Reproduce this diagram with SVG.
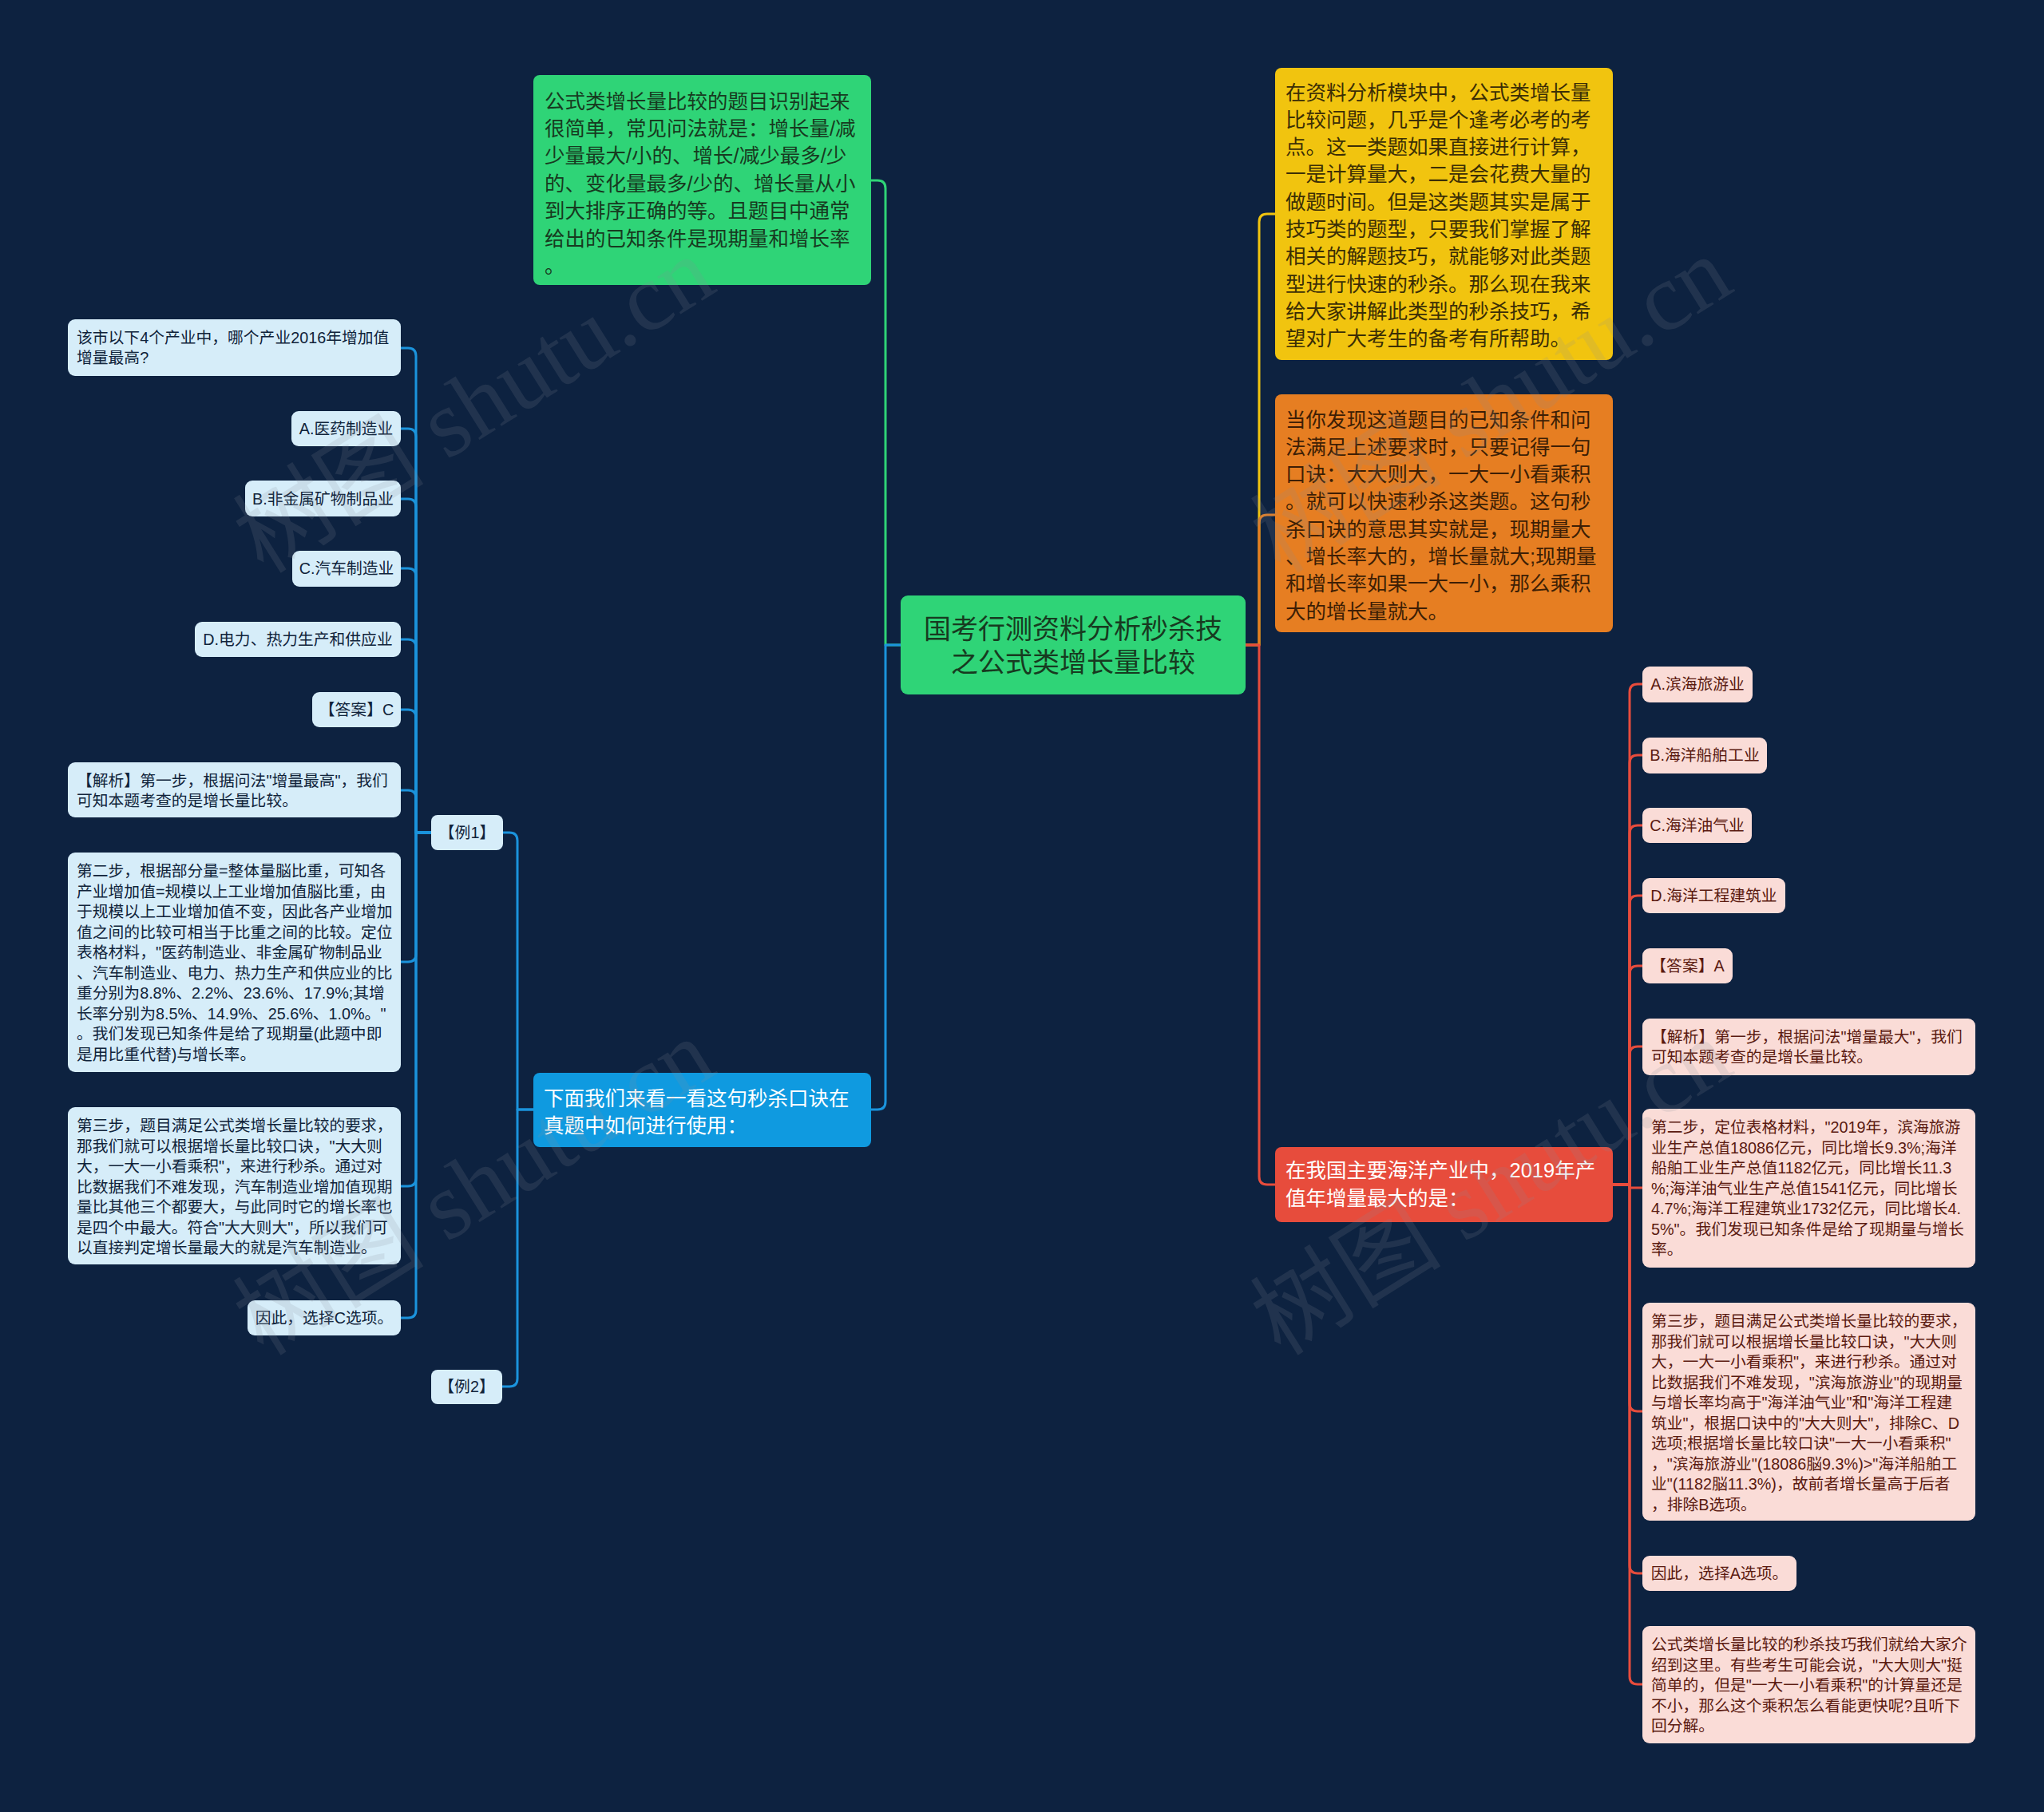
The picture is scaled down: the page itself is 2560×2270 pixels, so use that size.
<svg xmlns="http://www.w3.org/2000/svg" width="2560" height="2270" viewBox="0 0 2560 2270">
<style>
text{font-family:"Liberation Sans","Noto Sans CJK SC",sans-serif}
.lb{fill:#d6edf9}
.pk{fill:#fadcd7}
.s{font-size:19.8px}
.tl{fill:#10233a}
.tp{fill:#5a1a10}
.b{font-size:25.5px}
.c{fill:none;stroke-width:3;stroke-linejoin:round}
.cb{stroke:#1b93dc}
.cg{stroke:#2fd477}
.cy{stroke:#f1c40f}
.co{stroke:#e67e22}
.cr{stroke:#e74c3c}
.wm{font-family:"Liberation Serif","Noto Sans CJK SC",serif;font-size:120px;fill:#8a8f99;opacity:0.16}
</style>
<rect x="0" y="0" width="2560" height="2270" fill="#0d2240"/>

<g id="connectors">
<path class="c cg" d="M1128 808 H1109 V236 Q1109 226 1099 226 H1091"/>
<path class="c cb" d="M1128 808 H1109 V1380 Q1109 1390 1099 1390 H1091"/>
<path class="c cb" d="M668 1390 H648 V1053 Q648 1043 638 1043 H630"/>
<path class="c cb" d="M668 1390 H648 V1727 Q648 1737 638 1737 H629"/>
<path class="c cb" d="M540 1043 H521 V446 Q521 436 511 436 H502"/>
<path class="c cb" d="M540 1043 H521 V547 Q521 537 511 537 H502"/>
<path class="c cb" d="M540 1043 H521 V635 Q521 625 511 625 H502"/>
<path class="c cb" d="M540 1043 H521 V722 Q521 712 511 712 H502"/>
<path class="c cb" d="M540 1043 H521 V811 Q521 801 511 801 H502"/>
<path class="c cb" d="M540 1043 H521 V899 Q521 889 511 889 H502"/>
<path class="c cb" d="M540 1043 H521 V1000 Q521 990 511 990 H502"/>
<path class="c cb" d="M540 1043 H521 V1195 Q521 1205 511 1205 H502"/>
<path class="c cb" d="M540 1043 H521 V1476 Q521 1486 511 1486 H502"/>
<path class="c cb" d="M540 1043 H521 V1641 Q521 1651 511 1651 H502"/>
<path class="c cy" d="M1560 808 H1577 V278 Q1577 268 1587 268 H1597"/>
<path class="c co" d="M1560 808 H1577 V655 Q1577 645 1587 645 H1597"/>
<path class="c cr" d="M1560 808 H1577 V1474 Q1577 1484 1587 1484 H1597"/>
<path class="c cr" d="M2020 1484 H2041 V867 Q2041 857 2051 857 H2057"/>
<path class="c cr" d="M2020 1484 H2041 V956 Q2041 946 2051 946 H2057"/>
<path class="c cr" d="M2020 1484 H2041 V1044 Q2041 1034 2051 1034 H2057"/>
<path class="c cr" d="M2020 1484 H2041 V1132 Q2041 1122 2051 1122 H2057"/>
<path class="c cr" d="M2020 1484 H2041 V1220 Q2041 1210 2051 1210 H2057"/>
<path class="c cr" d="M2020 1484 H2041 V1321 Q2041 1311 2051 1311 H2057"/>
<path class="c cr" d="M2020 1484 H2041 V1488 H2057"/>
<path class="c cr" d="M2020 1484 H2041 V1758 Q2041 1768 2051 1768 H2057"/>
<path class="c cr" d="M2020 1484 H2041 V1961 Q2041 1971 2051 1971 H2057"/>
<path class="c cr" d="M2020 1484 H2041 V2100 Q2041 2110 2051 2110 H2057"/>
</g>

<g id="root">
<rect x="1128" y="746" width="432" height="124" rx="9" fill="#2fd477"/>
<text font-size="34" fill="#173a20" text-anchor="middle"><tspan x="1344" y="800">国考行测资料分析秒杀技</tspan><tspan x="1344" y="842">之公式类增长量比较</tspan></text>
</g>

<g id="n-green">
<rect x="668" y="94" width="423" height="263" rx="8" fill="#2fd477"/>
<text class="b" fill="#173a20"><tspan x="682" y="135.5">公式类增长量比较的题目识别起来</tspan><tspan x="682" y="169.9">很简单，常见问法就是：增长量/减</tspan><tspan x="682" y="204.3">少量最大/小的、增长/减少最多/少</tspan><tspan x="682" y="238.7">的、变化量最多/少的、增长量从小</tspan><tspan x="682" y="273.1">到大排序正确的等。且题目中通常</tspan><tspan x="682" y="307.5">给出的已知条件是现期量和增长率</tspan><tspan x="682" y="341.9">。</tspan></text>
</g>

<g id="n-blue">
<rect x="668" y="1344" width="423" height="93" rx="8" fill="#0f9ae0"/>
<text class="b" fill="#ffffff"><tspan x="681" y="1384.5">下面我们来看一看这句秒杀口诀在</tspan><tspan x="681" y="1419">真题中如何进行使用：</tspan></text>
</g>

<g id="n-ex1">
<rect x="540" y="1021" width="90" height="44" rx="8" class="lb"/>
<text class="s tl" text-anchor="middle" x="585" y="1050">【例1】</text>
</g>
<g id="n-ex2">
<rect x="540" y="1716" width="89" height="43" rx="8" class="lb"/>
<text class="s tl" text-anchor="middle" x="584.5" y="1744">【例2】</text>
</g>

<g id="n-l-q">
<rect x="85" y="400" width="417" height="71" rx="9" class="lb"/>
<text class="s tl"><tspan x="96" y="430">该市以下4个产业中，哪个产业2016年增加值</tspan><tspan x="96" y="455">增量最高?</tspan></text>
</g>
<g id="n-l-a">
<rect x="365" y="515" width="137" height="44" rx="9" class="lb"/>
<text class="s tl" text-anchor="middle" x="433.5" y="544">A.医药制造业</text>
</g>
<g id="n-l-b">
<rect x="307" y="602" width="195" height="45" rx="9" class="lb"/>
<text class="s tl" text-anchor="middle" x="404.5" y="632">B.非金属矿物制品业</text>
</g>
<g id="n-l-c">
<rect x="366" y="690" width="136" height="45" rx="9" class="lb"/>
<text class="s tl" text-anchor="middle" x="434" y="719">C.汽车制造业</text>
</g>
<g id="n-l-d">
<rect x="244" y="779" width="258" height="44" rx="9" class="lb"/>
<text class="s tl" text-anchor="middle" x="373" y="808">D.电力、热力生产和供应业</text>
</g>
<g id="n-l-ans">
<rect x="391" y="867" width="111" height="44" rx="9" class="lb"/>
<text class="s tl" text-anchor="middle" x="446.5" y="896">【答案】C</text>
</g>
<g id="n-l-jx">
<rect x="85" y="955" width="417" height="69" rx="9" class="lb"/>
<text class="s tl"><tspan x="96" y="985">【解析】第一步，根据问法"增量最高"，我们</tspan><tspan x="96" y="1010">可知本题考查的是增长量比较。</tspan></text>
</g>
<g id="n-l-s2">
<rect x="85" y="1068" width="417" height="275" rx="9" class="lb"/>
<text class="s tl"><tspan x="96" y="1098">第二步，根据部分量=整体量脳比重，可知各</tspan><tspan x="96" y="1123.5">产业增加值=规模以上工业增加值脳比重，由</tspan><tspan x="96" y="1149">于规模以上工业增加值不变，因此各产业增加</tspan><tspan x="96" y="1174.5">值之间的比较可相当于比重之间的比较。定位</tspan><tspan x="96" y="1200">表格材料，"医药制造业、非金属矿物制品业</tspan><tspan x="96" y="1225.5">、汽车制造业、电力、热力生产和供应业的比</tspan><tspan x="96" y="1251">重分别为8.8%、2.2%、23.6%、17.9%;其增</tspan><tspan x="96" y="1276.5">长率分别为8.5%、14.9%、25.6%、1.0%。"</tspan><tspan x="96" y="1302">。我们发现已知条件是给了现期量(此题中即</tspan><tspan x="96" y="1327.5">是用比重代替)与增长率。</tspan></text>
</g>
<g id="n-l-s3">
<rect x="85" y="1387" width="417" height="197" rx="9" class="lb"/>
<text class="s tl"><tspan x="96" y="1417">第三步，题目满足公式类增长量比较的要求，</tspan><tspan x="96" y="1442.5">那我们就可以根据增长量比较口诀，"大大则</tspan><tspan x="96" y="1468">大，一大一小看乘积"，来进行秒杀。通过对</tspan><tspan x="96" y="1493.5">比数据我们不难发现，汽车制造业增加值现期</tspan><tspan x="96" y="1519">量比其他三个都要大，与此同时它的增长率也</tspan><tspan x="96" y="1544.5">是四个中最大。符合"大大则大"，所以我们可</tspan><tspan x="96" y="1570">以直接判定增长量最大的就是汽车制造业。</tspan></text>
</g>
<g id="n-l-end">
<rect x="310" y="1629" width="192" height="44" rx="9" class="lb"/>
<text class="s tl" text-anchor="middle" x="406" y="1658">因此，选择C选项。</text>
</g>

<g id="n-yellow">
<rect x="1597" y="85" width="423" height="366" rx="8" fill="#f1c40f"/>
<text class="b" fill="#3b2e05"><tspan x="1610" y="124.5">在资料分析模块中，公式类增长量</tspan><tspan x="1610" y="158.8">比较问题，几乎是个逢考必考的考</tspan><tspan x="1610" y="193.1">点。这一类题如果直接进行计算，</tspan><tspan x="1610" y="227.4">一是计算量大，二是会花费大量的</tspan><tspan x="1610" y="261.7">做题时间。但是这类题其实是属于</tspan><tspan x="1610" y="296">技巧类的题型，只要我们掌握了解</tspan><tspan x="1610" y="330.3">相关的解题技巧，就能够对此类题</tspan><tspan x="1610" y="364.6">型进行快速的秒杀。那么现在我来</tspan><tspan x="1610" y="398.9">给大家讲解此类型的秒杀技巧，希</tspan><tspan x="1610" y="433.2">望对广大考生的备考有所帮助。</tspan></text>
</g>

<g id="n-orange">
<rect x="1597" y="494" width="423" height="298" rx="8" fill="#e67e22"/>
<text class="b" fill="#3d1e05"><tspan x="1610" y="534.5">当你发现这道题目的已知条件和问</tspan><tspan x="1610" y="568.8">法满足上述要求时，只要记得一句</tspan><tspan x="1610" y="603.1">口诀：大大则大，一大一小看乘积</tspan><tspan x="1610" y="637.4">。就可以快速秒杀这类题。这句秒</tspan><tspan x="1610" y="671.7">杀口诀的意思其实就是，现期量大</tspan><tspan x="1610" y="706">、增长率大的，增长量就大;现期量</tspan><tspan x="1610" y="740.3">和增长率如果一大一小，那么乘积</tspan><tspan x="1610" y="774.6">大的增长量就大。</tspan></text>
</g>

<g id="n-red">
<rect x="1597" y="1437" width="423" height="94" rx="8" fill="#e74c3c"/>
<text class="b" fill="#ffffff"><tspan x="1610" y="1474.5">在我国主要海洋产业中，2019年产</tspan><tspan x="1610" y="1509.5">值年增量最大的是：</tspan></text>
</g>

<g id="n-r-a">
<rect x="2057" y="835" width="138" height="45" rx="9" class="pk"/>
<text class="s tp" text-anchor="middle" x="2126" y="864">A.滨海旅游业</text>
</g>
<g id="n-r-b">
<rect x="2057" y="924" width="156" height="45" rx="9" class="pk"/>
<text class="s tp" text-anchor="middle" x="2135" y="953">B.海洋船舶工业</text>
</g>
<g id="n-r-c">
<rect x="2057" y="1012" width="137" height="44" rx="9" class="pk"/>
<text class="s tp" text-anchor="middle" x="2125.5" y="1041">C.海洋油气业</text>
</g>
<g id="n-r-d">
<rect x="2057" y="1100" width="179" height="44" rx="9" class="pk"/>
<text class="s tp" text-anchor="middle" x="2146.5" y="1129">D.海洋工程建筑业</text>
</g>
<g id="n-r-ans">
<rect x="2057" y="1188" width="113" height="44" rx="9" class="pk"/>
<text class="s tp" text-anchor="middle" x="2113.5" y="1217">【答案】A</text>
</g>
<g id="n-r-jx">
<rect x="2057" y="1276" width="417" height="71" rx="9" class="pk"/>
<text class="s tp"><tspan x="2068" y="1306">【解析】第一步，根据问法"增量最大"，我们</tspan><tspan x="2068" y="1331">可知本题考查的是增长量比较。</tspan></text>
</g>
<g id="n-r-s2">
<rect x="2057" y="1389" width="417" height="199" rx="9" class="pk"/>
<text class="s tp"><tspan x="2068" y="1419">第二步，定位表格材料，"2019年，滨海旅游</tspan><tspan x="2068" y="1444.5">业生产总值18086亿元，同比增长9.3%;海洋</tspan><tspan x="2068" y="1470">船舶工业生产总值1182亿元，同比增长11.3</tspan><tspan x="2068" y="1495.5">%;海洋油气业生产总值1541亿元，同比增长</tspan><tspan x="2068" y="1521">4.7%;海洋工程建筑业1732亿元，同比增长4.</tspan><tspan x="2068" y="1546.5">5%"。我们发现已知条件是给了现期量与增长</tspan><tspan x="2068" y="1572">率。</tspan></text>
</g>
<g id="n-r-s3">
<rect x="2057" y="1632" width="417" height="273" rx="9" class="pk"/>
<text class="s tp"><tspan x="2068" y="1662">第三步，题目满足公式类增长量比较的要求，</tspan><tspan x="2068" y="1687.5">那我们就可以根据增长量比较口诀，"大大则</tspan><tspan x="2068" y="1713">大，一大一小看乘积"，来进行秒杀。通过对</tspan><tspan x="2068" y="1738.5">比数据我们不难发现，"滨海旅游业"的现期量</tspan><tspan x="2068" y="1764">与增长率均高于"海洋油气业"和"海洋工程建</tspan><tspan x="2068" y="1789.5">筑业"，根据口诀中的"大大则大"，排除C、D</tspan><tspan x="2068" y="1815">选项;根据增长量比较口诀"一大一小看乘积"</tspan><tspan x="2068" y="1840.5">，"滨海旅游业"(18086脳9.3%)&gt;"海洋船舶工</tspan><tspan x="2068" y="1866">业"(1182脳11.3%)，故前者增长量高于后者</tspan><tspan x="2068" y="1891.5">，排除B选项。</tspan></text>
</g>
<g id="n-r-end">
<rect x="2057" y="1949" width="193" height="44" rx="9" class="pk"/>
<text class="s tp" text-anchor="middle" x="2153.5" y="1978">因此，选择A选项。</text>
</g>
<g id="n-r-last">
<rect x="2057" y="2037" width="417" height="147" rx="9" class="pk"/>
<text class="s tp"><tspan x="2068" y="2067">公式类增长量比较的秒杀技巧我们就给大家介</tspan><tspan x="2068" y="2092.5">绍到这里。有些考生可能会说，"大大则大"挺</tspan><tspan x="2068" y="2118">简单的，但是"一大一小看乘积"的计算量还是</tspan><tspan x="2068" y="2143.5">不小，那么这个乘积怎么看能更快呢?且听下</tspan><tspan x="2068" y="2169">回分解。</tspan></text>
</g>

<g id="watermarks">
<text class="wm" transform="translate(330 720) rotate(-32)">树图 shutu.cn</text>
<text class="wm" transform="translate(1604 720) rotate(-32)">树图 shutu.cn</text>
<text class="wm" transform="translate(330 1700) rotate(-32)">树图 shutu.cn</text>
<text class="wm" transform="translate(1604 1700) rotate(-32)">树图 shutu.cn</text>
</g>
</svg>
